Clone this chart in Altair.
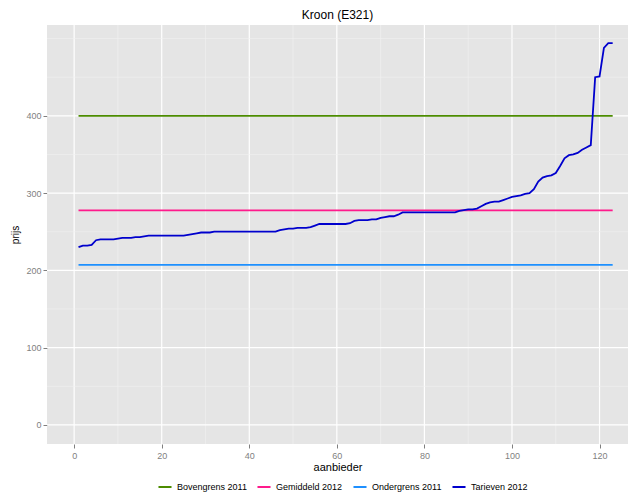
import altair as alt
import pandas as pd

# ---- data ----
series_names = ["Bovengrens 2011", "Gemiddeld 2012", "Ondergrens 2011", "Tarieven 2012"]
series_colors = ["#4c8c00", "#ff1a8c", "#1e90ff", "#0000cd"]

bovengrens_2011 = 400
gemiddeld_2012 = 277.5
ondergrens_2011 = 207

aanbieder = list(range(1, 124))
tarieven_2012 = [
    230, 232, 232, 233, 239, 240, 240, 240, 240, 241,
    242, 242, 242, 243, 243, 244, 245, 245, 245, 245,
    245, 245, 245, 245, 245, 246, 247, 248, 249, 249,
    249, 250, 250, 250, 250, 250, 250, 250, 250, 250,
    250, 250, 250, 250, 250, 250, 252, 253, 254, 254,
    255, 255, 255, 256, 258, 260, 260, 260, 260, 260,
    260, 260, 261, 264, 265, 265, 265, 266, 266, 268,
    269, 270, 270, 272, 275, 275, 275, 275, 275, 275,
    275, 275, 275, 275, 275, 275, 275, 277, 278, 279,
    279, 280, 283, 286, 288, 289, 289, 291, 293, 295,
    296, 297, 299, 300, 305, 315, 320, 322, 323, 326,
    335, 345, 349, 350, 352, 356, 359, 362, 450, 451,
    488, 494, 494,
]

x_major = [0, 20, 40, 60, 80, 100, 120]
x_minor = [10, 30, 50, 70, 90, 110]
y_major = [0, 100, 200, 300, 400]
y_minor = [50, 150, 250, 350, 450, 500]

# ---- build tables ----
rows = []
for name, val in [("Bovengrens 2011", bovengrens_2011),
                  ("Gemiddeld 2012", gemiddeld_2012),
                  ("Ondergrens 2011", ondergrens_2011)]:
    for xv in (aanbieder[0], aanbieder[-1]):
        rows.append({"serie": name, "aanbieder": xv, "prijs": val})
for xv, yv in zip(aanbieder, tarieven_2012):
    rows.append({"serie": "Tarieven 2012", "aanbieder": xv, "prijs": yv})
df = pd.DataFrame(rows)

FONT = "Liberation Sans"
xs = alt.Scale(domain=[-6.2, 126.5], nice=False, zero=False)
ys = alt.Scale(domain=[-24.7, 517.5], nice=False, zero=False)

x_axis = alt.Axis(values=x_major, grid=False, domain=False, tickColor="#7f7f7f",
                  tickSize=4, labelColor="#7f7f7f", labelFontSize=9, labelFont=FONT,
                  labelPadding=3, titleFont=FONT, titleFontSize=11,
                  titleFontWeight="normal", titleColor="black", titlePadding=1)
y_axis = alt.Axis(values=y_major, grid=False, domain=False, tickColor="#7f7f7f",
                  tickSize=4, labelColor="#7f7f7f", labelFontSize=9, labelFont=FONT,
                  labelPadding=2, titleFont=FONT, titleFontSize=10,
                  titleFontWeight="normal", titleColor="black", titlePadding=5)


def X(field):
    return alt.X(field, type="quantitative", scale=xs, axis=x_axis, title="aanbieder")


def Y(field):
    return alt.Y(field, type="quantitative", scale=ys, axis=y_axis, title="prijs")


minor_x = alt.Chart(pd.DataFrame({"aanbieder": x_minor})).mark_rule(
    color="#f2f2f2", strokeWidth=0.6).encode(x=X("aanbieder"))
major_x = alt.Chart(pd.DataFrame({"aanbieder": x_major})).mark_rule(
    color="white", strokeWidth=1.2).encode(x=X("aanbieder"))
minor_y = alt.Chart(pd.DataFrame({"prijs": y_minor})).mark_rule(
    color="#f2f2f2", strokeWidth=0.6).encode(y=Y("prijs"))
major_y = alt.Chart(pd.DataFrame({"prijs": y_major})).mark_rule(
    color="white", strokeWidth=1.2).encode(y=Y("prijs"))

lines = alt.Chart(df).mark_line(strokeWidth=1.8, interpolate="linear").encode(
    x=X("aanbieder"),
    y=Y("prijs"),
    color=alt.Color(
        "serie:N",
        scale=alt.Scale(domain=series_names, range=series_colors),
        legend=alt.Legend(
            title=None, orient="none", direction="horizontal",
            legendX=110, legendY=454, symbolType="stroke", symbolStrokeWidth=2,
            symbolSize=170, labelFontSize=9, labelFont=FONT, labelColor="black",
            columnPadding=6, labelOffset=4,
        ),
    ),
    order=alt.Order("aanbieder:Q"),
)

chart = alt.layer(minor_x, major_x, minor_y, major_y, lines).properties(
    width=581,
    height=419,
    background="white",
    title=alt.TitleParams("Kroon (E321)", font=FONT, fontSize=12,
                          fontWeight="normal", color="black", anchor="middle", offset=2),
    autosize=alt.AutoSizeParams(type="none"),
    padding={"left": 39, "top": 17, "right": 5, "bottom": 58},
).configure_view(fill="#e5e5e5", stroke=None)

chart.save("out.html", embed_options={"renderer": "svg", "actions": False})
